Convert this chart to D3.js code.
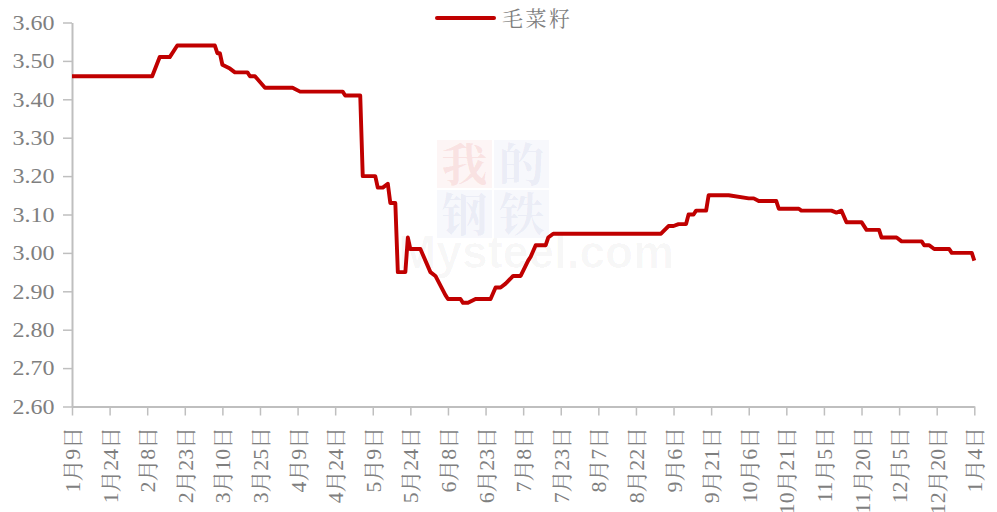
<!DOCTYPE html>
<html>
<head>
<meta charset="utf-8">
<script src="https://cdn.jsdelivr.net/npm/d3@7"></script>
<style>
  body { margin: 0; background: #fff; }
  svg { display: block; }
</style>
</head>
<body>
<svg id="chart"></svg>
<script>
// series: 毛菜籽 price (change points only)
const seriesName = "毛菜籽";
const dates = [
  "2022-01-09", "2022-02-10", "2022-02-13", "2022-02-17", "2022-02-20", "2022-03-07",
  "2022-03-08", "2022-03-09", "2022-03-10", "2022-03-13", "2022-03-15", "2022-03-20",
  "2022-03-21", "2022-03-23", "2022-03-27", "2022-04-07", "2022-04-10", "2022-04-27",
  "2022-04-28", "2022-05-04", "2022-05-05", "2022-05-10", "2022-05-11", "2022-05-13",
  "2022-05-15", "2022-05-16", "2022-05-18", "2022-05-19", "2022-05-22", "2022-05-23",
  "2022-05-24", "2022-05-28", "2022-06-01", "2022-06-03", "2022-06-07", "2022-06-08",
  "2022-06-13", "2022-06-14", "2022-06-16", "2022-06-19", "2022-06-25", "2022-06-27",
  "2022-06-29", "2022-07-01", "2022-07-04", "2022-07-07", "2022-07-10", "2022-07-11",
  "2022-07-13", "2022-07-17", "2022-07-18", "2022-07-20", "2022-09-01", "2022-09-04",
  "2022-09-06", "2022-09-08", "2022-09-11", "2022-09-12", "2022-09-14", "2022-09-15",
  "2022-09-19", "2022-09-20", "2022-09-28", "2022-10-06", "2022-10-08", "2022-10-10",
  "2022-10-17", "2022-10-18", "2022-10-26", "2022-10-27", "2022-11-08", "2022-11-10",
  "2022-11-12", "2022-11-14", "2022-11-20", "2022-11-22", "2022-11-27", "2022-11-28",
  "2022-12-04", "2022-12-06", "2022-12-14", "2022-12-15", "2022-12-17", "2022-12-19",
  "2022-12-25", "2022-12-26", "2023-01-03", "2023-01-04"
];
const values = [
  3.46, 3.46, 3.51, 3.51, 3.54, 3.54,
  3.52, 3.52, 3.49, 3.48, 3.47, 3.47,
  3.46, 3.46, 3.43, 3.43, 3.42, 3.42,
  3.41, 3.41, 3.20, 3.20, 3.17, 3.17,
  3.18, 3.13, 3.13, 2.95, 2.95, 3.04,
  3.01, 3.01, 2.95, 2.94, 2.89, 2.88,
  2.88, 2.87, 2.87, 2.88, 2.88, 2.91,
  2.91, 2.92, 2.94, 2.94, 2.98, 2.99,
  3.02, 3.02, 3.04, 3.05, 3.05, 3.07,
  3.07, 3.075, 3.075, 3.10, 3.10, 3.11,
  3.11, 3.15, 3.15, 3.142, 3.142, 3.135,
  3.135, 3.115, 3.115, 3.11, 3.11, 3.105,
  3.11, 3.08, 3.08, 3.06, 3.06, 3.04,
  3.04, 3.03, 3.03, 3.02, 3.02, 3.01,
  3.01, 3.00, 3.00, 2.98
];

// axis ticks
const yTicks = [2.6, 2.7, 2.8, 2.9, 3.0, 3.1, 3.2, 3.3, 3.4, 3.5, 3.6];
const xTickDates = [
  "2022-01-09", "2022-01-24", "2022-02-08", "2022-02-23", "2022-03-10", "2022-03-25",
  "2022-04-09", "2022-04-24", "2022-05-09", "2022-05-24", "2022-06-08", "2022-06-23",
  "2022-07-08", "2022-07-23", "2022-08-07", "2022-08-22", "2022-09-06", "2022-09-21",
  "2022-10-06", "2022-10-21", "2022-11-05", "2022-11-20", "2022-12-05", "2022-12-20",
  "2023-01-04"
];
const xTickLabels = [
  "1月9日", "1月24日", "2月8日", "2月23日", "3月10日", "3月25日",
  "4月9日", "4月24日", "5月9日", "5月24日", "6月8日", "6月23日",
  "7月8日", "7月23日", "8月7日", "8月22日", "9月6日", "9月21日",
  "10月6日", "10月21日", "11月5日", "11月20日", "12月5日", "12月20日",
  "1月4日"
];

const W = 997, H = 512;
const parse = d3.utcParse("%Y-%m-%d");
const data = dates.map((d, i) => ({ date: parse(d), value: values[i] }));

const svg = d3.select("#chart").attr("width", W).attr("height", H);

// dims
const plotLeft = 72, plotRight = 974.3, plotTop = 22.5, plotBottom = 406.5;

const x = d3.scaleUtc().domain([parse("2022-01-09"), parse("2023-01-04")]).range([plotLeft, plotRight]);
const y = d3.scaleLinear().domain([2.6, 3.6]).range([plotBottom, plotTop]);

const axisColor = "#bfbfbf";
const textColor = "#7f7f7f";
const serif = "'Liberation Serif', 'Noto Serif CJK SC', serif";

// watermark (faint)
const wm = svg.append("g").attr("pointer-events", "none");
[
  { t: "我", x: 437, y: 140, bg: "rgba(220,50,50,0.05)", fg: "rgba(220,50,50,0.10)" },
  { t: "的", x: 494, y: 140, bg: "rgba(60,80,170,0.04)", fg: "rgba(60,80,170,0.07)" },
  { t: "钢", x: 437, y: 190, bg: "rgba(60,80,170,0.04)", fg: "rgba(60,80,170,0.07)" },
  { t: "铁", x: 494, y: 190, bg: "rgba(60,80,170,0.04)", fg: "rgba(60,80,170,0.07)" }
].forEach(c => {
  wm.append("rect").attr("x", c.x).attr("y", c.y).attr("width", 55).attr("height", 48).attr("fill", c.bg);
  wm.append("text").attr("x", c.x + 27.5).attr("y", c.y + 41)
    .attr("text-anchor", "middle")
    .style("font-family", "'Noto Serif CJK SC', serif")
    .style("font-size", "46px").style("font-weight", "bold")
    .attr("fill", c.fg).text(c.t);
});
wm.append("text").attr("x", 398).attr("y", 268)
  .style("font-family", "'Liberation Sans', Arial, sans-serif")
  .style("font-size", "46px").style("font-weight", "bold")
  .attr("fill", "rgba(0,0,0,0.03)").text("Mysteel.com");

// y axis
const yAxis = svg.append("g")
  .attr("transform", `translate(${plotLeft},0)`)
  .call(d3.axisLeft(y).tickValues(yTicks).tickFormat(d3.format(".2f")).tickSize(9).tickSizeOuter(0));
yAxis.attr("font-family", null);
yAxis.select(".domain").attr("stroke", axisColor).attr("stroke-width", 2);
yAxis.selectAll(".tick line").attr("stroke", axisColor).attr("stroke-width", 1.5);
yAxis.selectAll(".tick text")
  .attr("x", -14.5).attr("dy", "0.34em")
  .attr("transform", "scale(1.2,1)")
  .attr("fill", textColor)
  .style("font-family", serif)
  .style("font-size", "20px");

// x axis
const xAxis = svg.append("g")
  .attr("transform", `translate(0,${plotBottom})`)
  .call(d3.axisBottom(x)
    .tickValues(xTickDates.map(parse))
    .tickFormat((d, i) => xTickLabels[i])
    .tickSize(9).tickSizeOuter(0));
xAxis.attr("font-family", null);
xAxis.select(".domain").attr("stroke", axisColor).attr("stroke-width", 2);
xAxis.selectAll(".tick line").attr("stroke", axisColor).attr("stroke-width", 1.5);
xAxis.selectAll(".tick text")
  .attr("transform", "rotate(-90) scale(1.04,1)")
  .attr("text-anchor", "end")
  .attr("x", -19.7).attr("y", 0).attr("dy", "0.36em")
  .attr("fill", textColor)
  .style("font-family", serif)
  .style("font-size", "21px");

// line
const lineGen = d3.line().x(d => x(d.date)).y(d => y(d.value));
svg.append("path")
  .datum(data)
  .attr("fill", "none")
  .attr("stroke", "#c00000")
  .attr("stroke-width", 3.9)
  .attr("stroke-linejoin", "round")
  .attr("d", lineGen);

// legend
const legend = svg.append("g").attr("transform", "translate(437,18)");
legend.append("line")
  .attr("x1", 0).attr("x2", 57).attr("y1", 0).attr("y2", 0)
  .attr("stroke", "#c00000").attr("stroke-width", 4).attr("stroke-linecap", "round");
legend.append("text")
  .attr("x", 65).attr("y", 0).attr("dy", "0.36em")
  .attr("fill", textColor)
  .style("font-family", "'Noto Serif CJK SC', serif")
  .style("font-size", "21px")
  .style("letter-spacing", "2.5px")
  .text(seriesName);
</script>
</body>
</html>
